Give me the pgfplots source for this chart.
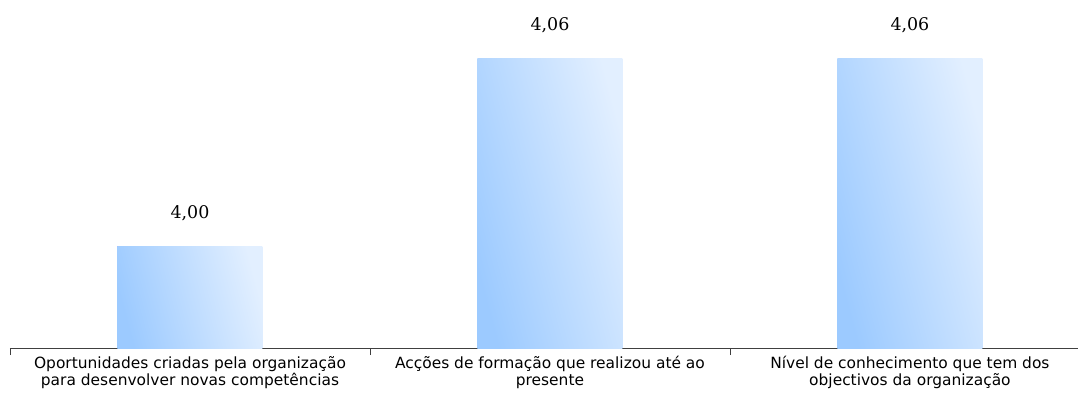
\documentclass[border=0pt]{standalone}
\usepackage{pgfplots}
\pgfplotsset{compat=1.18}
\usepackage{fontspec}
\setmainfont{DejaVu Sans}
\newfontfamily\valfont{DejaVu Serif}
\definecolor{bardark}{HTML}{9CCAFF}
\definecolor{barlight}{HTML}{E2EFFF}
\definecolor{axgray}{HTML}{404040}
\begin{document}
\begin{tikzpicture}
\begin{axis}[
  scale only axis,
  width=1068bp, height=348bp,
  xmin=-0.5, xmax=2.467,
  ymin=3.9673, ymax=4.0789,
  axis x line*=bottom,
  axis y line=none,
  axis line style={axgray, line width=0.8pt},
  xtick={0,1,2},
  xticklabels={{Oportunidades criadas pela organização\\para desenvolver novas competências},
               {Acções de formação que realizou até ao\\presente},
               {Nível de conhecimento que tem dos\\objectivos da organização}},
  xticklabel style={align=center, font=\fontsize{15.5}{17}\selectfont, color=black, yshift=-5bp},
  major tick length=0pt,
  minor xtick={-0.5,0.5,1.5},
  minor tick length=7bp,
  tick align=outside,
  tick style={axgray, line width=0.8pt},
  ybar, bar width=145bp, bar shift=0pt,
  clip=false,
  /pgf/number format/assume math mode=true,
  nodes near coords={\pgfmathprintnumber[fixed, fixed zerofill, precision=2, use comma, assume math mode=true]{\pgfplotspointmeta}},
  nodes near coords style={font=\valfont\fontsize{17.5}{20}\selectfont, anchor=base, yshift=28bp, color=black},
  every axis plot/.append style={draw=none, left color=bardark, right color=barlight, shading angle=105},
]
\addplot coordinates {(0,4.00)};
\addplot coordinates {(1,4.06)};
\addplot coordinates {(2,4.06)};
\end{axis}
\pgfresetboundingbox
\path (-10bp,-48bp) rectangle (1068bp,348bp);
\end{tikzpicture}
\end{document}
